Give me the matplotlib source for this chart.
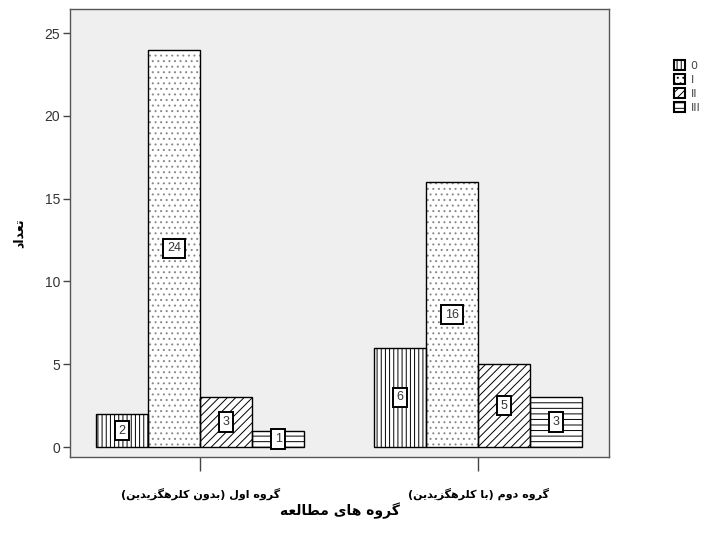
import matplotlib
matplotlib.use("Agg")
import matplotlib.pyplot as plt
import numpy as np
from matplotlib.patches import Patch

# ---- data ----
groups = ["گروه اول (بدون کلرهگزیدین)", "گروه دوم (با کلرهگزیدین)"]
series_labels = ["0", "I", "II", "III"]
values_0 = [2, 6]
values_I = [24, 16]
values_II = [3, 5]
values_III = [1, 3]
x_title = "گروه های مطالعه"
y_title = "تعداد"
y_ticks = [0, 5, 10, 15, 20, 25]

# ---- simple Persian shaping (presentation forms) ----
FORMS = {
    'ا': (0xFE8D, 0xFE8E, None, None),
    'ب': (0xFE8F, 0xFE90, 0xFE91, 0xFE92),
    'ت': (0xFE95, 0xFE96, 0xFE97, 0xFE98),
    'د': (0xFEA9, 0xFEAA, None, None),
    'ر': (0xFEAD, 0xFEAE, None, None),
    'ز': (0xFEAF, 0xFEB0, None, None),
    'ط': (0xFEC1, 0xFEC2, 0xFEC3, 0xFEC4),
    'ع': (0xFEC9, 0xFECA, 0xFECB, 0xFECC),
    'ل': (0xFEDD, 0xFEDE, 0xFEDF, 0xFEE0),
    'م': (0xFEE1, 0xFEE2, 0xFEE3, 0xFEE4),
    'ن': (0xFEE5, 0xFEE6, 0xFEE7, 0xFEE8),
    'ه': (0xFEE9, 0xFEEA, 0xFEEB, 0xFEEC),
    'و': (0xFEED, 0xFEEE, None, None),
    'ی': (0xFBFC, 0xFBFD, 0xFBFE, 0xFBFF),
    'ک': (0xFB8E, 0xFB8F, 0xFB90, 0xFB91),
    'گ': (0xFB92, 0xFB93, 0xFB94, 0xFB95),
}


def shape(s):
    out = []
    for i, ch in enumerate(s):
        if ch not in FORMS:
            out.append(ch)
            continue
        prev = s[i - 1] if i > 0 else None
        nxt = s[i + 1] if i + 1 < len(s) else None
        jp = prev in FORMS and FORMS[prev][2] is not None
        dual = FORMS[ch][2] is not None
        jn = dual and nxt in FORMS
        iso, fin, ini, med = FORMS[ch]
        if jp and jn:
            code = med
        elif jp:
            code = fin
        elif jn:
            code = ini
        else:
            code = iso
        out.append(chr(code))
    vis = ''.join(out)[::-1]
    vis = vis.translate(str.maketrans({'(': ')', ')': '('}))
    return vis


plt.rcParams['font.family'] = ['DejaVu Sans']
plt.rcParams['hatch.linewidth'] = 0.7

fig = plt.figure(figsize=(7.25, 5.35), dpi=100)
fig.patch.set_facecolor('white')
ax = fig.add_axes([70 / 725, 1 - 457 / 535, (609 - 70) / 725, (457 - 9) / 535])
ax.set_facecolor('#efefef')

x = np.arange(len(groups))
w = 0.187
offsets = [-1.5 * w, -0.5 * w, 0.5 * w, 1.5 * w]
series = [values_0, values_I, values_II, values_III]
hatches = ['||||', '...', '////', '---']
hcolors = ['black', '#888888', 'black', 'black']

for vals, off, h, hc in zip(series, offsets, hatches, hcolors):
    ax.bar(x + off, vals, w, color='white', edgecolor=hc, hatch=h, linewidth=0, zorder=2)
    ax.bar(x + off, vals, w, color='none', edgecolor='black', linewidth=1.0, zorder=3)
    for xi, v in zip(x + off, vals):
        ax.text(xi, v / 2, str(v), ha='center', va='center', fontsize=9,
                family='Liberation Sans', color='#333333', zorder=4,
                bbox=dict(boxstyle='square,pad=0.3', fc='white', ec='black', lw=1.4))

ax.set_xlim(-0.468, 1.471)
ax.set_ylim(-0.6, 26.45)
ax.set_yticks(y_ticks)
ax.set_yticklabels([str(t) for t in y_ticks], family='Liberation Sans', fontsize=10, color='#333333')
ax.set_xticks(x)
ax.set_xticklabels([shape(g) for g in groups], fontsize=8, fontweight='bold')
ax.tick_params(axis='y', direction='out', length=5, width=1, pad=2, color='#444444')
ax.tick_params(axis='x', direction='out', length=10, width=1, pad=12, color='#444444')
for sp in ax.spines.values():
    sp.set_color('#555555')
    sp.set_linewidth(1.0)

ax.set_xlabel(shape(x_title), fontsize=10, fontweight='bold', labelpad=2)
ax.set_ylabel(shape(y_title), fontsize=9, fontweight='bold', labelpad=14)

handles = [Patch(facecolor='white', edgecolor='black', hatch=h, linewidth=1.5)
           for h in ['||||', '...', '////', '---']]
leg = fig.legend(handles, series_labels, loc='upper left', bbox_to_anchor=(674 / 725, 1 - 60 / 535),
                 frameon=False, fontsize=8, handlelength=1.0, handleheight=1.0,
                 labelspacing=0.3, handletextpad=0.5, borderaxespad=0, borderpad=0)
for t in leg.get_texts():
    t.set_color('#444444')

fig.savefig('out.png', dpi=100)
